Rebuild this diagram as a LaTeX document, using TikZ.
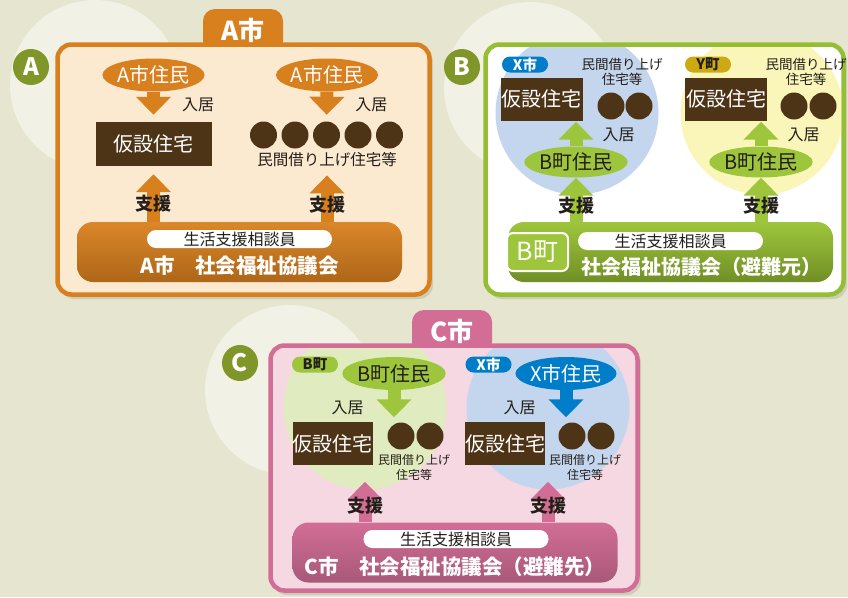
\documentclass[tikz,border=0pt]{standalone}
\usepackage{fontspec}
\setmainfont{Noto Sans CJK JP}
\usetikzlibrary{arrows.meta,positioning,shapes.geometric}

\definecolor{bgcol}{RGB}{229,229,208}
\definecolor{palecol}{RGB}{241,241,229}
\definecolor{olivecol}{RGB}{128,150,40}
\definecolor{orangecol}{RGB}{217,128,30}
\definecolor{peachcol}{RGB}{251,233,208}
\definecolor{browncol}{RGB}{78,52,22}
\definecolor{greencol}{RGB}{150,190,50}
\definecolor{leafcol}{RGB}{158,198,60}
\definecolor{skycol}{RGB}{196,214,238}
\definecolor{lemoncol}{RGB}{250,245,185}
\definecolor{bluecol}{RGB}{0,125,200}
\definecolor{mustardcol}{RGB}{205,170,20}
\definecolor{pinkcol}{RGB}{210,110,150}
\definecolor{rosecol}{RGB}{245,216,226}
\definecolor{mintcol}{RGB}{224,236,192}
\definecolor{shadowcol}{RGB}{205,205,186}
\definecolor{inkcol}{RGB}{35,30,25}

\begin{document}
\begin{tikzpicture}[x=1pt, y=-1pt,
    every node/.style={inner sep=0pt},
    panel/.style={line width=4.5pt, rounded corners=14pt},
    tab/.style={rounded corners=12pt, minimum width=80pt, minimum height=44pt, text=white, font=\bfseries\fontsize{26}{26}\selectfont},
    badge/.style={circle, fill=olivecol, minimum size=36pt, text=white, font=\bfseries\fontsize{24}{24}\selectfont},
    resident/.style={ellipse, minimum width=100pt, minimum height=33pt, font=\fontsize{20}{20}\selectfont},
    house/.style={fill=browncol, text=white, minimum width=116pt, minimum height=44pt, font=\fontsize{20}{20}\selectfont},
    smallhouse/.style={house, minimum width=82pt, minimum height=43pt},
    dot/.style={circle, fill=browncol, minimum size=27pt},
    note/.style={align=center, text=inkcol, font=\fontsize{15.5}{17}\selectfont},
    move/.style={text=inkcol, font=\fontsize{16}{16}\selectfont},
    support/.style={text=inkcol, font=\bfseries\fontsize{18}{18}\selectfont},
    bar/.style={rounded corners=16pt, minimum width=325pt, minimum height=60pt},
    pill/.style={fill=white, rounded corners=9pt, minimum width=185pt, minimum height=18pt, text=inkcol, font=\fontsize{16}{16}\selectfont},
    council/.style={text=white, font=\bfseries\fontsize{20.5}{20.5}\selectfont},
    tag/.style={rounded corners=8pt, minimum width=46pt, minimum height=16pt, font=\bfseries\fontsize{14.5}{14.5}\selectfont},
    area/.style={circle, minimum size=163pt},
    fatarrow/.style={line width=13pt, -{Triangle[width=34pt,length=18pt]}}
  ]

  % Background
  \fill[bgcol] (0,0) rectangle (848,597);
  \useasboundingbox (0,0) rectangle (848,597);
  \fill[palecol] (95,85) circle (85);
  \fill[palecol] (530,88) circle (86);
  \fill[palecol] (290,390) circle (85);

  % Badges
  \node[badge] (abadge) at (31,67) {A};
  \node[badge] (bbadge) at (462,67) {B};
  \node[badge] (cbadge) at (240,363) {C};

  % Panel A
  \fill[shadowcol, rounded corners=14pt] (60,48) rectangle (433,299);
  \node[tab, fill=orangecol] (atab) at (243,31) {A市};
  \draw[panel, draw=orangecol, fill=peachcol] (57.5,44.5) rectangle (429.5,294.5);

  \node[resident, fill=orangecol, text=white] (ares1) at (153.5,75) {A市住民};
  \node[resident, fill=orangecol, text=white] (ares2) at (327,75) {A市住民};
  \node[house] (akasetsu) at (153.5,144) {仮設住宅};
  \foreach \i in {0,...,4}
    \node[dot] (adot\i) at ({263.5+31.5*\i},135) {};
  \node[note] (aminkan) at (327,160) {民間借り上げ住宅等};
  \node[bar, top color=orangecol!95, bottom color=orangecol!80!black] (abar) at (239.5,252) {};
  \node[pill] (apill) at (239.5,239) {生活支援相談員};
  \node[council] (acouncil) at (239.5,266) {A市　社会福祉協議会};

  \draw[fatarrow, orangecol, shorten >=7pt] (ares1) -- node[move, right=22pt, pos=0.45] {入居} (akasetsu);
  \draw[fatarrow, orangecol, shorten >=6.5pt] (ares2) -- node[move, right=22pt, pos=0.45] {入居} (adot2);
  \draw[fatarrow, orangecol, shorten >=8pt] (akasetsu.south |- abar.north) -- node[support, pos=0.32] {支援} (akasetsu.south);
  \draw[fatarrow, orangecol, shorten >=8pt] (aminkan.south |- abar.north) -- node[support, pos=0.32] {支援} (aminkan.south);

  % Panel B
  \fill[shadowcol, rounded corners=14pt] (488,48) rectangle (847,299);
  \draw[panel, draw=greencol, fill=white] (485.5,44.5) rectangle (843.5,294.5);
  \begin{scope}
    \clip[rounded corners=12pt] (488,47) rectangle (841,292);
    \node[area, fill=skycol] (bsky) at (577,113) {};
    \node[area, fill=lemoncol] (blemon) at (762,113) {};
  \end{scope}

  \node[tag, fill=bluecol, text=white] (bxtag) at (525,64.5) {X市};
  \node[tag, fill=mustardcol, text=inkcol] (bytag) at (708,64.5) {Y町};
  \node[smallhouse] (bxkasetsu) at (541.5,99) {仮設住宅};
  \node[smallhouse] (bykasetsu) at (726,99) {仮設住宅};
  \node[dot] (bxdot1) at (611,106) {};
  \node[dot] (bxdot2) at (639,106) {};
  \node[dot] (bydot1) at (794,106) {};
  \node[dot] (bydot2) at (823,106) {};
  \node[note, font=\fontsize{13.5}{15}\selectfont] (bxminkan) at (622,72) {民間借り上げ\\住宅等};
  \node[note, font=\fontsize{13.5}{15}\selectfont] (byminkan) at (806,72) {民間借り上げ\\住宅等};
  \node[resident, fill=leafcol, text=inkcol, minimum height=31pt] (bres1) at (576,162) {B町住民};
  \node[resident, fill=leafcol, text=inkcol, minimum height=31pt] (bres2) at (761,162) {B町住民};
  \node[bar, top color=leafcol, bottom color=greencol!75!black] (bbar) at (670.5,252) {};
  \node[rounded corners=6pt, draw=white, line width=2pt, fill=leafcol, minimum width=61pt, minimum height=38pt, text=white, font=\fontsize{25}{25}\selectfont] (btown) at (537.5,252) {B町};
  \node[pill] (bpill) at (670.5,241) {生活支援相談員};
  \node[council, font=\bfseries\fontsize{20}{20}\selectfont] (bcouncil) at (701,267) {社会福祉協議会（避難元）};

  \draw[fatarrow, leafcol, shorten >=1pt] (bres1) -- node[move, right=20pt, pos=0.45] {入居} (bres1 |- bxkasetsu.south);
  \draw[fatarrow, leafcol, shorten >=1pt] (bres2) -- node[move, right=20pt, pos=0.45] {入居} (bres2 |- bykasetsu.south);
  \draw[fatarrow, leafcol] (bres1 |- bbar.north) -- node[support, pos=0.36] {支援} (bres1);
  \draw[fatarrow, leafcol] (bres2 |- bbar.north) -- node[support, pos=0.36] {支援} (bres2);

  % Panel C
  \fill[shadowcol, rounded corners=14pt] (273,349) rectangle (641,595);
  \node[tab, fill=pinkcol] (ctab) at (452,332) {C市};
  \draw[panel, draw=pinkcol, fill=rosecol] (270.5,345.5) rectangle (637.5,590.5);
  \begin{scope}
    \clip[rounded corners=12pt] (273,348) rectangle (635,588);
    \node[area, fill=mintcol] (cmint) at (365,408) {};
    \node[area, fill=skycol] (csky) at (548,408) {};
  \end{scope}

  \node[tag, fill=leafcol, text=inkcol] (cbtag) at (315,364.5) {B町};
  \node[tag, fill=bluecol, text=white] (cxtag) at (488.5,364.5) {X市};
  \node[resident, fill=leafcol, text=inkcol] (cres1) at (394,373.5) {B町住民};
  \node[resident, fill=bluecol, text=white] (cres2) at (566,373.5) {X市住民};
  \node[smallhouse, minimum width=80pt] (cbkasetsu) at (332.5,443.5) {仮設住宅};
  \node[smallhouse, minimum width=80pt] (cxkasetsu) at (505,443.5) {仮設住宅};
  \node[dot] (cbdot1) at (401,436) {};
  \node[dot] (cbdot2) at (430,436) {};
  \node[dot] (cxdot1) at (572,436) {};
  \node[dot] (cxdot2) at (601,436) {};
  \node[note, font=\fontsize{12}{15}\selectfont] (cbminkan) at (414,467) {民間借り上げ\\住宅等};
  \node[note, font=\fontsize{12}{15}\selectfont] (cxminkan) at (585,467) {民間借り上げ\\住宅等};
  \node[bar, top color=pinkcol, bottom color=pinkcol!80!black] (cbar) at (455,552.5) {};
  \node[pill] (cpill) at (456,539) {生活支援相談員};
  \node[council] (ccouncil) at (455,567) {C市　社会福祉協議会（避難先）};

  \draw[fatarrow, leafcol, shorten >=5pt] (cres1) -- node[move, left=24pt, pos=0.55] {入居} (cres1 |- cbdot1.north);
  \draw[fatarrow, bluecol, shorten >=5pt] (cres2) -- node[move, left=24pt, pos=0.55] {入居} (cres2 |- cxdot1.north);
  \draw[fatarrow, pinkcol, shorten >=-8pt] (cmint.south |- cbar.north) -- node[support, pos=0.5] {支援} (cmint.south);
  \draw[fatarrow, pinkcol, shorten >=-8pt] (csky.south |- cbar.north) -- node[support, pos=0.5] {支援} (csky.south);

\end{tikzpicture}
\end{document}
